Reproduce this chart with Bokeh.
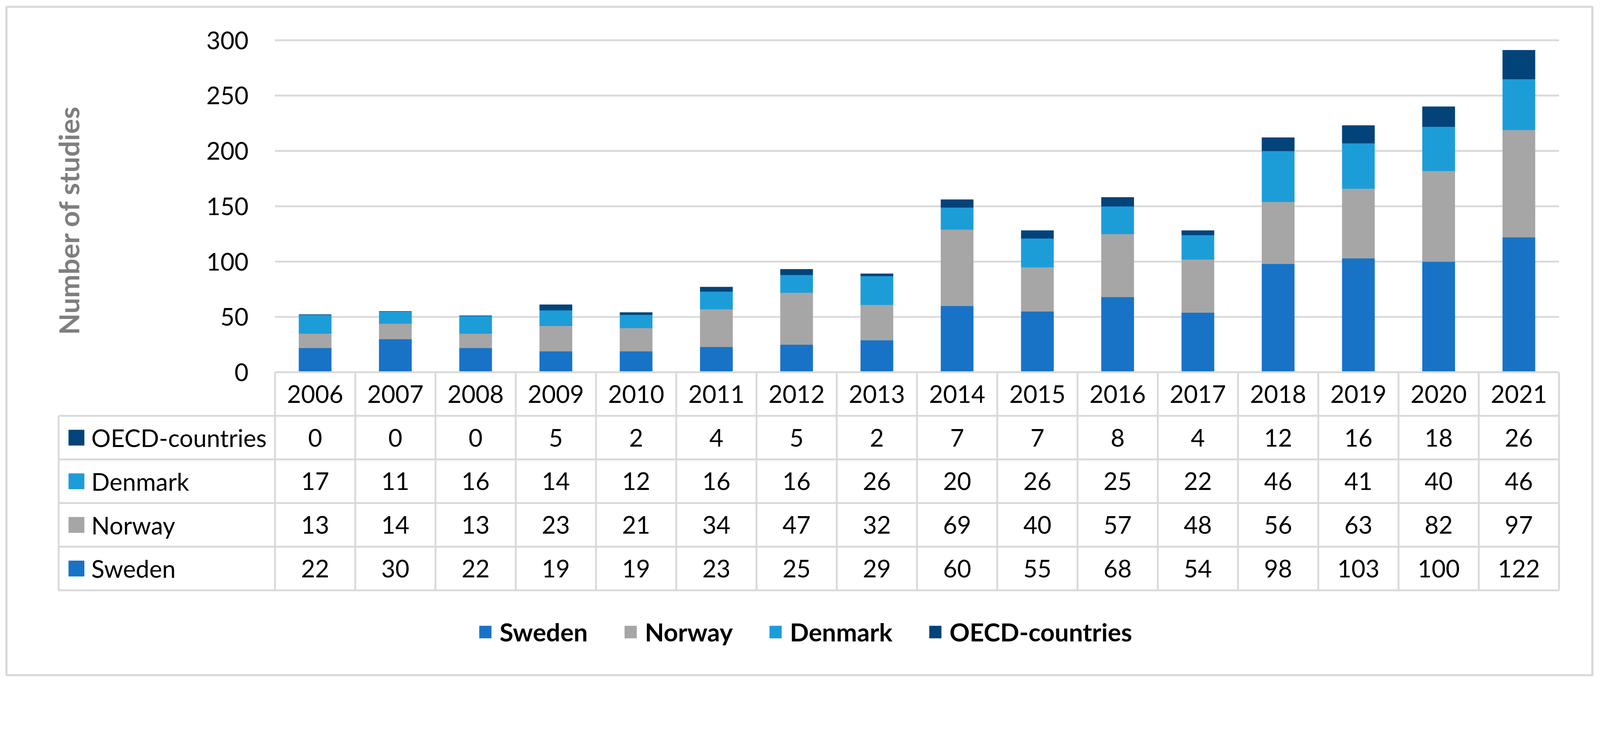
import numpy as np
from bokeh.plotting import figure
from bokeh.models import Range1d, ColumnDataSource
from bokeh.core.properties import value
from bokeh.embed import file_html
from bokeh.resources import INLINE

# ---------------- data ----------------
years = ["2006", "2007", "2008", "2009", "2010", "2011", "2012", "2013",
         "2014", "2015", "2016", "2017", "2018", "2019", "2020", "2021"]
sweden = [22, 30, 22, 19, 19, 23, 25, 29, 60, 55, 68, 54, 98, 103, 100, 122]
norway = [13, 14, 13, 23, 21, 34, 47, 32, 69, 40, 57, 48, 56, 63, 82, 97]
denmark = [17, 11, 16, 14, 12, 16, 16, 26, 20, 26, 25, 22, 46, 41, 40, 46]
oecd = [0, 0, 0, 5, 2, 4, 5, 2, 7, 7, 8, 4, 12, 16, 18, 26]
series_names = ["Sweden", "Norway", "Denmark", "OECD-countries"]
colors = ["#1873C7", "#A6A6A6", "#1D9DD8", "#02437A"]
y_ticks = [0, 50, 100, 150, 200, 250, 300]
y_title = "Number of studies"

# ---------------- layout constants (pixels) ----------------
S = 1 / 1.063          # overall scale of the layout


def px(v):
    return v * S


def fs(v):
    return f"{v * S:.1f}px"


FIG_W, FIG_H = px(4340), px(1850)
FRAME_L, FRAME_T, FRAME_R, FRAME_B = px(17), px(18), px(4333), px(1838)
COL0_CX = px(857.0)      # centre of first year column
COL_W = px(218.4)        # width of one year column
Y0_PX = px(1013.0)       # pixel row of value 0
PX_PER_UNIT = px(3.013)  # pixels per study
ROW_H = px(118.8)        # table row height
LEG_COL_PX = px(159.0)   # left edge of the table's legend column
GRID = "#D9D9D9"
FONT = "Lato"
LW = px(5)

n = len(years)
xs = list(range(n))

x_range = Range1d((FRAME_L - COL0_CX) / COL_W, (FRAME_R - COL0_CX) / COL_W)
y_range = Range1d((Y0_PX - FRAME_B) / PX_PER_UNIT, (Y0_PX - FRAME_T) / PX_PER_UNIT)
t_range = Range1d(-(FRAME_B - Y0_PX) / ROW_H, (Y0_PX - FRAME_T) / ROW_H)
LEG_X = (LEG_COL_PX - COL0_CX) / COL_W

p = figure(width=int(round(FIG_W)), height=int(round(FIG_H)),
           x_range=x_range, y_range=y_range,
           output_backend="svg", toolbar_location=None,
           x_axis_location=None, y_axis_location=None,
           min_border_left=int(round(FRAME_L)), min_border_top=int(round(FRAME_T)),
           min_border_right=int(round(FIG_W - FRAME_R)),
           min_border_bottom=int(round(FIG_H - FRAME_B)))
p.extra_y_ranges = {"table": t_range}
p.grid.visible = False
p.outline_line_color = GRID
p.outline_line_width = px(6)
p.background_fill_color = "white"
p.border_fill_color = "white"

# horizontal gridlines (value axis)
p.segment(x0=-0.5, x1=n - 0.5, y0=y_ticks[1:], y1=y_ticks[1:],
          line_color=GRID, line_width=LW)

# stacked bars
src = ColumnDataSource(dict(x=xs, Sweden=sweden, Norway=norway,
                            Denmark=denmark, **{"OECD-countries": oecd}))
p.vbar_stack(series_names, x="x", width=0.403, color=colors, source=src,
             legend_label=series_names)

# y tick labels
p.text(x=-0.5, y=y_ticks, text=[str(t) for t in y_ticks], x_offset=px(-72),
       text_align="right", text_baseline="middle",
       text_font=value(FONT), text_font_size=fs(66), text_color="black")

# y title
p.text(x=LEG_X, y=(Y0_PX - px(599)) / PX_PER_UNIT, text=[y_title], x_offset=px(27),
       angle=np.pi / 2, text_align="center", text_baseline="middle",
       text_font=value(FONT), text_font_size=fs(76), text_font_style="bold",
       text_color="#7F7F7F")

# ---------------- data table ----------------
rows = [("OECD-countries", oecd, colors[3]),
        ("Denmark", denmark, colors[2]),
        ("Norway", norway, colors[1]),
        ("Sweden", sweden, colors[0])]
n_rows = len(rows)

# horizontal table lines
p.segment(x0=-0.5, x1=n - 0.5, y0=0, y1=0, y_range_name="table",
          line_color=GRID, line_width=LW)
p.segment(x0=LEG_X, x1=n - 0.5, y0=[-(k + 1) for k in range(n_rows + 1)],
          y1=[-(k + 1) for k in range(n_rows + 1)], y_range_name="table",
          line_color=GRID, line_width=LW)
# vertical table lines
vx = [k - 0.5 for k in range(n + 1)]
p.segment(x0=vx, x1=vx, y0=0, y1=-(n_rows + 1), y_range_name="table",
          line_color=GRID, line_width=LW)
p.segment(x0=LEG_X, x1=LEG_X, y0=-1, y1=-(n_rows + 1), y_range_name="table",
          line_color=GRID, line_width=LW)

# header (years)
p.text(x=xs, y=-0.5, text=years, y_range_name="table",
       text_align="center", text_baseline="middle",
       text_font=value(FONT), text_font_size=fs(66), text_color="black")

for k, (name, vals, col) in enumerate(rows):
    yc = -(k + 1.5)
    p.text(x=xs, y=yc, text=[str(v) for v in vals], y_range_name="table",
           text_align="center", text_baseline="middle",
           text_font=value(FONT), text_font_size=fs(66), text_color="black")
    p.scatter(x=LEG_X + px(48.5) / COL_W, y=yc, marker="square", size=px(42),
              y_range_name="table", fill_color=col, line_color=col)
    p.text(x=LEG_X, y=yc, text=[name], x_offset=px(89), y_range_name="table",
           text_align="left", text_baseline="middle",
           text_font=value(FONT), text_font_size=fs(66), text_color="black")

# ---------------- legend ----------------
leg = p.legend[0]
leg.orientation = "horizontal"
leg.location = (int(round(px(1300) - FRAME_L)), int(round(px(77))))
leg.glyph_width = int(round(px(40)))
leg.glyph_height = int(round(px(41)))
leg.label_standoff = int(round(px(19)))
leg.spacing = int(round(px(96)))
leg.padding = 0
leg.margin = 0
leg.border_line_color = None
leg.background_fill_alpha = 0
leg.label_text_font = FONT
leg.label_text_font_style = "bold"
leg.label_text_font_size = fs(68)
leg.label_text_color = "black"
leg.click_policy = "none"

open("out.html", "w").write(file_html(p, INLINE))
